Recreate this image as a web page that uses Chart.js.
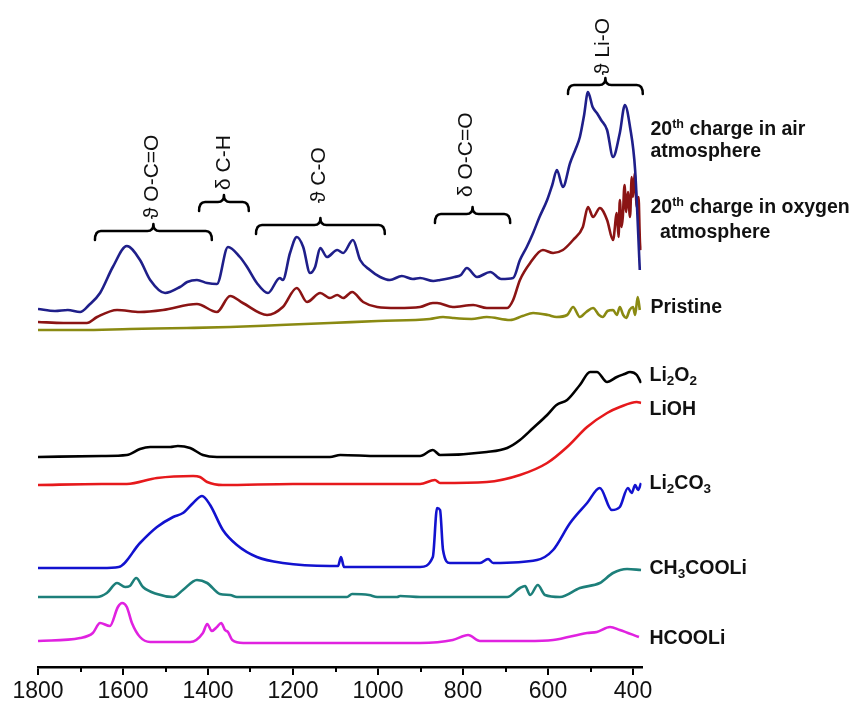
<!DOCTYPE html>
<html>
<head>
<meta charset="utf-8">
<script src="https://cdn.jsdelivr.net/npm/chart.js@4.4.1/dist/chart.umd.min.js"></script>
<style>
html,body{margin:0;padding:0;background:#fff;}
#wrap{width:857px;height:702px;}
</style>
</head>
<body>
<div id="wrap"><canvas id="c" width="857" height="702"></canvas></div>
<script>
// ---- Data (wavenumber in cm-1, intensity in arbitrary offset units) ----
const X_TICKS = [1800, 1600, 1400, 1200, 1000, 800, 600, 400];
const X_MINOR = [1700, 1500, 1300, 1100, 900, 700, 500];

const AIR_WN  = [1800,1760,1730,1701,1680,1654,1624,1591,1560,1536,1501,1466,1449,1426,1402,1379,1353,1325,1308,1285,1259,1231,1224,1207,1191,1176,1160,1148,1136,1120,1096,1082,1059,1042,1019,995,972,944,918,901,870,854,820,805,791,767,736,710,682,666,650,635,620,602,590,579,565,548,535,525,515,506,495,485,475,461,447,431,419,407,395,384];
const AIR_VAL = [358,356,357,355,362,374,400,421,407,387,374,380,385,387,384,383,420,410,400,384,374,389,387,414,430,420,394,400,419,410,417,414,427,407,397,390,387,391,388,389,386,387,390,392,399,390,395,388,389,407,420,434,450,467,482,497,480,504,518,530,552,575,560,554,547,537,510,534,562,540,497,397];

const OXY_WN  = [1800,1740,1685,1661,1614,1560,1506,1426,1379,1348,1318,1261,1224,1191,1167,1136,1113,1096,1082,1061,1035,1002,955,901,871,861,824,776,744,696,682,666,642,612,588,565,541,518,506,494,478,461,447,438,434,431,427,424,420,416,412,407,403,400,396,391,387,384,381];
const OXY_VAL = [345,344,344,350,357,355,357,363,355,371,364,352,360,379,365,374,369,372,369,375,365,360,359,360,364,364,360,362,359,359,367,387,404,417,414,417,427,440,460,450,459,447,427,454,430,467,440,450,482,455,475,450,490,470,494,460,470,430,417];

const PRI_WN  = [1800,1700,1584,1450,1348,1230,1113,1000,878,847,824,780,744,689,660,635,600,580,555,541,525,510,494,480,471,460,447,438,431,423,416,408,400,395,389,384];
const PRI_VAL = [337,337,338,339,340,342,344,346,348,350,349,348,350,347,351,354,352,350,352,360,350,355,359,352,350,356,357,352,360,352,349,357,360,352,370,357];

const LI2O2_WN  = [1800,1650,1591,1560,1536,1489,1471,1442,1412,1379,1200,1113,1089,1000,901,871,854,744,696,666,635,602,580,555,525,501,485,461,438,420,407,391,381];
const LI2O2_VAL = [210,211,212,218,220,220,221,219,212,210,210,210,212,211,211,217,212,215,219,227,239,252,262,267,282,295,295,285,290,293,295,292,284];

const LIOH_WN  = [1800,1650,1591,1520,1435,1419,1402,1365,1200,1000,901,866,854,744,666,602,555,508,461,431,391,381];
const LIOH_VAL = [182,183,183,189,191,190,185,182,183,183,183,187,184,185,192,204,220,240,254,260,265,264];

const LI2CO3_WN  = [1800,1650,1610,1560,1520,1482,1459,1435,1414,1395,1365,1332,1285,1224,1113,1094,1087,1080,1000,901,871,861,854,847,831,760,741,729,626,588,548,508,478,450,431,412,403,395,388,381];
const LI2CO3_VAL = [99,99,100,124,140,150,154,164,171,162,137,122,110,104,101,101,110,100,100,100,110,159,157,117,104,104,108,104,107,117,144,164,179,157,160,179,174,182,177,184];

const CH3_WN  = [1800,1661,1638,1614,1595,1584,1569,1553,1520,1482,1459,1426,1402,1372,1348,1332,1200,1073,1061,1021,1002,955,948,901,800,696,666,654,642,624,607,572,525,478,447,414,381];
const CH3_VAL = [70,70,74,84,80,81,89,80,73,70,77,87,84,73,72,70,70,70,73,72,70,70,71,70,70,70,79,81,72,82,72,70,79,84,94,98,97];

const HC_WN  = [1800,1701,1671,1654,1631,1612,1602,1591,1579,1560,1536,1442,1412,1402,1391,1379,1369,1360,1353,1343,1317,1000,901,824,788,760,650,588,508,485,454,431,386];
const HC_VAL = [26,29,34,44,41,60,64,60,44,30,25,25,34,43,36,40,44,37,35,27,24,24,24,27,32,26,26,27,34,35,40,37,30];

// Series labels (rich text segments: n = normal, sup = superscript, sub = subscript)
const SERIES_LABELS = [
  [[['n','20'],['sup','th'],['n',' charge in air']], [['n','atmosphere']]],
  [[['n','20'],['sup','th'],['n',' charge in oxygen']], [['n',' atmosphere']]],
  [[['n','Pristine']]],
  [[['n','Li'],['sub','2'],['n','O'],['sub','2']]],
  [[['n','LiOH']]],
  [[['n','Li'],['sub','2'],['n','CO'],['sub','3']]],
  [[['n','CH'],['sub','3'],['n','COOLi']]],
  [[['n','HCOOLi']]]
];
// Band assignments (bracket text)
const BAND_LABELS = ['\u03D1 O-C=O', '\u03B4 C-H', '\u03D1 C-O', '\u03B4 O-C=O', '\u03D1 Li-O'];
const BAND_FROM = [1666, 1421, 1287, 866, 553];
const BAND_TO   = [1391, 1304, 984, 689, 377];

// ---- Layout / style (not data) ----
const COLORS = ['#1f1f8a', '#8b1414', '#8a8a12', '#000000', '#e6191c', '#1212cf', '#1d7f7a', '#e022e0'];
const LABEL_LINE_Y = [[537, 515], [459, 434], [359], [291], [257], [183], [98], [28]];
const LABEL_DX = [[9, 9], [9, 13], [9], [8], [8], [8], [8], [8]];
const BAND_Y = [436, 465, 442, 453, 582];
const BAND_TEXT_X = [1532, 1362, 1139, 793, 471];
const BAND_TEXT_Y = [448, 477, 464, 470, 592];

const SERIES = [
  [AIR_WN, AIR_VAL], [OXY_WN, OXY_VAL], [PRI_WN, PRI_VAL],
  [LI2O2_WN, LI2O2_VAL], [LIOH_WN, LIOH_VAL], [LI2CO3_WN, LI2CO3_VAL],
  [CH3_WN, CH3_VAL], [HC_WN, HC_VAL]
];

const datasets = SERIES.map((s, i) => ({
  data: s[0].map((x, j) => ({x: x, y: s[1][j]})),
  borderColor: COLORS[i],
  borderWidth: 2.6,
  pointRadius: 0,
  fill: false,
  cubicInterpolationMode: 'monotone',
  tension: 0.3
}));

const FONT_FAMILY = '"Liberation Sans", Arial, sans-serif';

const decorPlugin = {
  id: 'decor',
  afterDraw(chart) {
    const ctx = chart.ctx;
    const xs = chart.scales.x, ys = chart.scales.y;
    const ca = chart.chartArea;
    ctx.save();
    // minor ticks
    ctx.strokeStyle = '#000';
    ctx.lineWidth = 2;
    X_MINOR.forEach(v => {
      const px = Math.round(xs.getPixelForValue(v));
      ctx.beginPath();
      ctx.moveTo(px, ca.bottom);
      ctx.lineTo(px, ca.bottom + 5);
      ctx.stroke();
    });
    // series labels
    ctx.fillStyle = '#111';
    ctx.textBaseline = 'middle';
    ctx.textAlign = 'left';
    const size = 19.5;
    SERIES_LABELS.forEach((lines, i) => {
      lines.forEach((segs, k) => {
        let x = ca.right + LABEL_DX[i][k];
        const y = ys.getPixelForValue(LABEL_LINE_Y[i][k]);
        segs.forEach(([kind, txt]) => {
          let fs = size, dy = 0;
          if (kind === 'sup') { fs = 12.5; dy = -5; }
          if (kind === 'sub') { fs = 13.5; dy = 5; }
          ctx.font = 'bold ' + fs + 'px ' + FONT_FAMILY;
          ctx.fillText(txt, x, y + dy);
          x += ctx.measureText(txt).width;
        });
      });
    });
    // brackets
    ctx.lineWidth = 2.5;
    ctx.lineCap = 'round';
    ctx.lineJoin = 'round';
    BAND_LABELS.forEach((lab, i) => {
      const x1 = xs.getPixelForValue(BAND_FROM[i]);
      const x2 = xs.getPixelForValue(BAND_TO[i]);
      const xc = (x1 + x2) / 2;
      const y = ys.getPixelForValue(BAND_Y[i]);
      ctx.beginPath();
      ctx.moveTo(x1, y + 9);
      ctx.quadraticCurveTo(x1, y, x1 + 6, y);
      ctx.lineTo(xc - 6, y);
      ctx.quadraticCurveTo(xc, y, xc, y - 7);
      ctx.quadraticCurveTo(xc, y, xc + 6, y);
      ctx.lineTo(x2 - 6, y);
      ctx.quadraticCurveTo(x2, y, x2, y + 9);
      ctx.stroke();
      // rotated label
      ctx.save();
      ctx.translate(xs.getPixelForValue(BAND_TEXT_X[i]), ys.getPixelForValue(BAND_TEXT_Y[i]));
      ctx.rotate(-Math.PI / 2);
      ctx.font = '21px ' + FONT_FAMILY;
      ctx.textAlign = 'left';
      ctx.textBaseline = 'middle';
      ctx.fillStyle = '#111';
      ctx.fillText(lab, 0, 0);
      ctx.restore();
    });
    ctx.restore();
  }
};

new Chart(document.getElementById('c'), {
  type: 'line',
  data: { datasets },
  options: {
    responsive: false,
    devicePixelRatio: 1,
    animation: false,
    layout: { padding: { left: 38, right: 215.5, top: 0, bottom: 0 } },
    plugins: { legend: { display: false }, tooltip: { enabled: false } },
    scales: {
      x: {
        type: 'linear',
        reverse: true,
        min: 380,
        max: 1800,
        afterBuildTicks: s => { s.ticks = X_TICKS.map(v => ({ value: v })); },
        afterFit: s => { s.height = 35; },
        grid: { display: true, drawOnChartArea: false, drawTicks: true, tickLength: 8, color: '#000', lineWidth: 2 },
        border: { display: true, color: '#000', width: 2.5 },
        ticks: { padding: 3, color: '#111', font: { size: 23, family: FONT_FAMILY }, maxRotation: 0, autoSkip: false, callback: v => String(v) }
      },
      y: { display: false, min: 0, max: 667 }
    }
  },
  plugins: [decorPlugin]
});
</script>
</body>
</html>
